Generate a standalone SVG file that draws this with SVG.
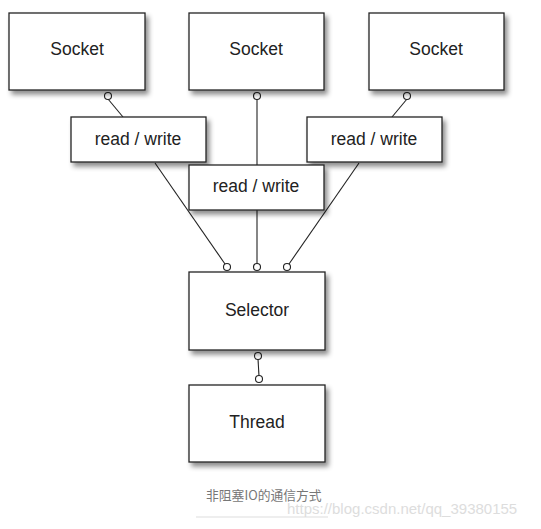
<svg xmlns="http://www.w3.org/2000/svg" width="541" height="529" viewBox="0 0 541 529">
<defs>
<filter id="sh" x="-10%" y="-10%" width="130%" height="140%">
<feDropShadow dx="3" dy="4" stdDeviation="2.5" flood-color="#000" flood-opacity="0.45"/>
</filter>
</defs>
<style>
.box{fill:#fff;stroke:#222;stroke-width:1.3;filter:url(#sh)}
.t{font-family:"Liberation Sans",Arial,sans-serif;font-size:17.5px;fill:#222;text-anchor:middle}
.c{fill:#fff;stroke:#222;stroke-width:1.1}
.ln{stroke:#222;stroke-width:1.1;fill:none}
</style>
<rect width="541" height="529" fill="#fff"/>
<g id="connectors">
<line class="ln" x1="108" y1="99" x2="123" y2="117"/>
<line class="ln" x1="257" y1="99" x2="257" y2="165"/>
<line class="ln" x1="407" y1="99" x2="392" y2="117"/>
<line class="ln" x1="155" y1="163" x2="225" y2="264"/>
<line class="ln" x1="257" y1="210" x2="257" y2="264"/>
<line class="ln" x1="359" y1="163" x2="289" y2="264"/>
<line class="ln" x1="258" y1="359" x2="259" y2="376"/>
<circle class="c" cx="108" cy="96" r="3.5"/>
<circle class="c" cx="257" cy="96" r="3.5"/>
<circle class="c" cx="407" cy="96" r="3.5"/>
<circle class="c" cx="227" cy="267" r="3.5"/>
<circle class="c" cx="257" cy="267" r="3.5"/>
<circle class="c" cx="287" cy="267" r="3.5"/>
<circle class="c" cx="258" cy="356" r="3.5"/>
<circle class="c" cx="259" cy="379" r="3.5"/>
</g>
<g id="socket1"><rect class="box" x="9" y="13" width="136" height="77"/><text class="t" x="77" y="55">Socket</text></g>
<g id="socket2"><rect class="box" x="189" y="13" width="135" height="77"/><text class="t" x="256" y="55">Socket</text></g>
<g id="socket3"><rect class="box" x="369" y="13" width="135" height="77"/><text class="t" x="436" y="55">Socket</text></g>
<g id="rw1"><rect class="box" x="71" y="117" width="135" height="45"/><text class="t" x="138" y="145">read / write</text></g>
<g id="rw3"><rect class="box" x="307" y="117" width="135" height="45"/><text class="t" x="374" y="145">read / write</text></g>
<g id="rw2"><rect class="box" x="189" y="165" width="135" height="45"/><text class="t" x="256" y="192">read / write</text></g>
<g id="selector"><rect class="box" x="189" y="272" width="136" height="78"/><text class="t" x="257" y="316">Selector</text></g>
<g id="thread"><rect class="box" x="189" y="385" width="136" height="77"/><text class="t" x="257" y="428">Thread</text></g>
<g id="caption">
<text x="206" y="500" font-family="'Noto Sans CJK SC','Liberation Sans',sans-serif" font-size="12.8" fill="#777">非阻塞IO的通信方式</text>
<line x1="196" y1="517" x2="328" y2="517" stroke="#ddd" stroke-width="1"/>
<text x="287" y="514" font-family="'Liberation Sans',Arial,sans-serif" font-size="15" fill="#ddd">https://blog.csdn.net/qq_39380155</text>
</g>
</svg>
